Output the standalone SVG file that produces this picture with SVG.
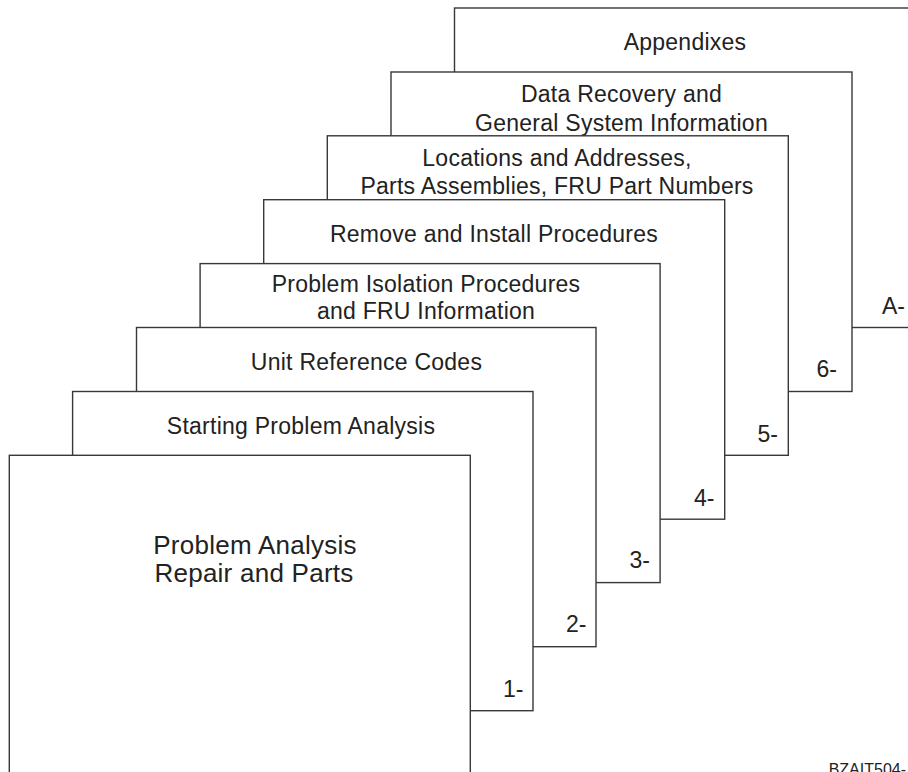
<svg xmlns="http://www.w3.org/2000/svg" width="908" height="772" viewBox="0 0 908 772">
  <style>
    .sheet { fill: #ffffff; stroke: #383838; stroke-width: 1.4; }
    .title { font-family: "Liberation Sans", Arial, sans-serif; font-size: 23px; letter-spacing: 0.25px; fill: #222222; text-anchor: middle; }
    .cover { font-size: 26px; }
    .tab { font-family: "Liberation Sans", Arial, sans-serif; font-size: 23px; fill: #222222; text-anchor: end; }
    .code { font-family: "Liberation Sans", Arial, sans-serif; font-size: 16px; fill: #222222; text-anchor: end; }
  </style>
  <rect width="908" height="772" fill="#ffffff"/>

  <!-- Stacked sheets, drawn back to front so each one covers the one behind -->
  <g id="sheet-appendixes">
    <rect class="sheet" x="454.5" y="8" width="461" height="319.5"/>
    <text class="title" x="685" y="50">Appendixes</text>
    <text class="tab" x="905" y="313.5">A-</text>
  </g>

  <g id="sheet-data-recovery">
    <rect class="sheet" x="391" y="72" width="461" height="319.5"/>
    <text class="title" x="621.5" y="101.7">Data Recovery and</text>
    <text class="title" x="621.5" y="130.7">General System Information</text>
    <text class="tab" x="837" y="377">6-</text>
  </g>

  <g id="sheet-locations">
    <rect class="sheet" x="327.3" y="135.8" width="461" height="319.5"/>
    <text class="title" x="557" y="165.5">Locations and Addresses,</text>
    <text class="title" x="557" y="194">Parts Assemblies, FRU Part Numbers</text>
    <text class="tab" x="778" y="441.7">5-</text>
  </g>

  <g id="sheet-remove-install">
    <rect class="sheet" x="263.7" y="199.7" width="461" height="319.5"/>
    <text class="title" x="494" y="242">Remove and Install Procedures</text>
    <text class="tab" x="714.5" y="505.5">4-</text>
  </g>

  <g id="sheet-problem-isolation">
    <rect class="sheet" x="200.1" y="263.6" width="460" height="319"/>
    <text class="title" x="426" y="291.5">Problem Isolation Procedures</text>
    <text class="title" x="426" y="319">and FRU Information</text>
    <text class="tab" x="650" y="568.3">3-</text>
  </g>

  <g id="sheet-unit-reference-codes">
    <rect class="sheet" x="136.5" y="327.5" width="459.5" height="319.2"/>
    <text class="title" x="366.5" y="369.5">Unit Reference Codes</text>
    <text class="tab" x="586.5" y="631.7">2-</text>
  </g>

  <g id="sheet-starting-analysis">
    <rect class="sheet" x="72.6" y="391.5" width="460.4" height="319.2"/>
    <text class="title" x="301" y="433.5">Starting Problem Analysis</text>
    <text class="tab" x="523.5" y="696.7">1-</text>
  </g>

  <g id="sheet-front-cover">
    <rect class="sheet" x="9.3" y="455.3" width="461" height="340"/>
    <text class="title cover" x="255" y="553.5">Problem Analysis</text>
    <text class="title cover" x="254" y="582">Repair and Parts</text>
  </g>

  <!-- figure code, running off the bottom edge -->
  <text class="code" x="906" y="775">BZAIT504-</text>
</svg>
